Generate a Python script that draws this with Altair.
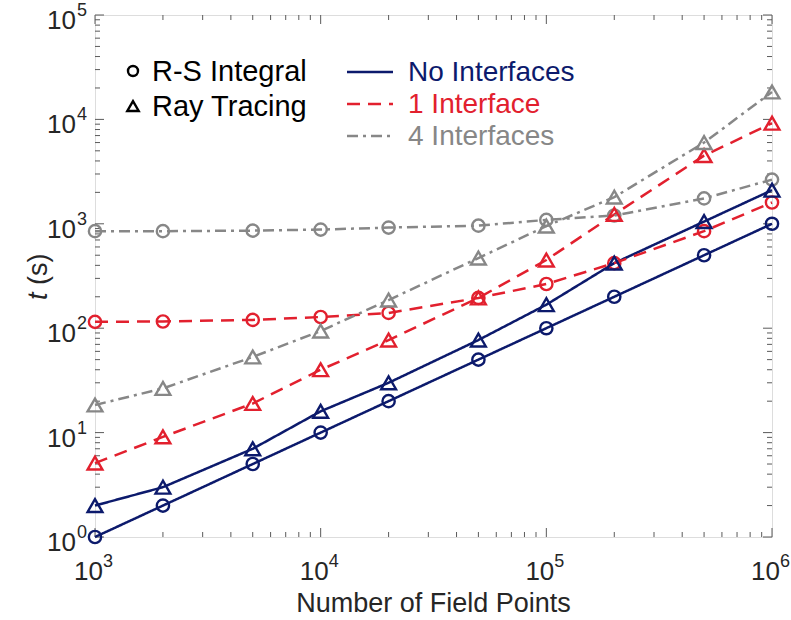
import altair as alt
import pandas as pd

# ---------------- data ----------------
x_points = [1e3, 2e3, 5e3, 1e4, 2e4, 5e4, 1e5, 2e5, 5e5, 1e6]

rs_none = [1.0, 2.0, 5.0, 10, 20, 50, 100, 200, 500, 1000]
rt_none = [2.0, 3.0, 7.0, 16, 30, 77, 168, 420, 1050, 2100]
rs_one = [115, 116, 120, 128, 140, 195, 265, 420, 850, 1600]
rt_one = [5.1, 9.1, 19, 40, 77, 195, 450, 1230, 4500, 9200]
rs_four = [850, 850, 860, 880, 920, 960, 1090, 1200, 1750, 2650]
rt_four = [18.4, 26.5, 53, 94, 186, 470, 950, 1800, 6000, 18300]

configs = ["No Interfaces", "1 Interface", "4 Interfaces"]
methods = ["R-S Integral", "Ray Tracing"]

x_major = [1e3, 1e4, 1e5, 1e6]
x_exp = ["3", "4", "5", "6"]
y_major = [1e0, 1e1, 1e2, 1e3, 1e4, 1e5]
y_exp = ["0", "1", "2", "3", "4", "5"]
x_minor = [m * 10 ** k for k in range(3, 6) for m in range(2, 10)]
y_minor = [m * 10 ** k for k in range(0, 5) for m in range(2, 10)]

series = [
    ("No Interfaces", "R-S Integral", rs_none),
    ("No Interfaces", "Ray Tracing", rt_none),
    ("1 Interface", "R-S Integral", rs_one),
    ("1 Interface", "Ray Tracing", rt_one),
    ("4 Interfaces", "R-S Integral", rs_four),
    ("4 Interfaces", "Ray Tracing", rt_four),
]
rows = []
for cfg, meth, vals in series:
    for xv, tv in zip(x_points, vals):
        rows.append({"x": xv, "t": tv, "config": cfg, "method": meth, "key": cfg + "|" + meth})
df = pd.DataFrame(rows)

# ---------------- styling ----------------
W, H = 677, 522
FONT = "Liberation Sans"
NAVY, RED, GRAY = "#0c1a6c", "#e2202e", "#878787"
AXIS_COLOR = "#5a5a5a"
TEXT_COLOR = "#262626"
RED_DASH = [13, 8]
GRAY_DASH = [11, 5, 3, 5]

xs = alt.Scale(type="log", domain=[1e3, 1e6], nice=False)
ys = alt.Scale(type="log", domain=[1, 1e5], nice=False)
color_scale = alt.Scale(domain=configs, range=[NAVY, RED, GRAY])
dash_scale = alt.Scale(domain=configs, range=[[1, 0], RED_DASH, GRAY_DASH])

X = alt.X("x:Q", scale=xs, axis=None)
Y = alt.Y("t:Q", scale=ys, axis=None)
C = alt.Color("config:N", scale=color_scale, legend=None)

base = alt.Chart(df)
lines = base.mark_line(strokeWidth=2.5).encode(
    x=X, y=Y, color=C,
    strokeDash=alt.StrokeDash("config:N", scale=dash_scale, legend=None),
    detail="key:N", order="x:Q",
)
circles = base.transform_filter(alt.datum.method == "R-S Integral").mark_point(
    shape="circle", filled=False, size=150, strokeWidth=2.4, opacity=1
).encode(x=X, y=Y, color=C)
triangles = base.transform_filter(alt.datum.method == "Ray Tracing").mark_point(
    shape="triangle-up", filled=False, size=220, strokeWidth=2.4, opacity=1
).encode(x=X, y=Y, color=C)

# ---------------- ticks (inward, all four sides) ----------------
def x_ticks(vals, length):
    c = alt.Chart(pd.DataFrame({"v": vals}))
    enc = alt.X("v:Q", scale=xs, axis=None)
    bottom = c.mark_rule(color=AXIS_COLOR, strokeWidth=1).encode(
        x=enc, y=alt.value(H), y2=alt.value(H - length))
    top = c.mark_rule(color=AXIS_COLOR, strokeWidth=1).encode(
        x=enc, y=alt.value(0), y2=alt.value(length))
    return [bottom, top]


def y_ticks(vals, length):
    c = alt.Chart(pd.DataFrame({"v": vals}))
    enc = alt.Y("v:Q", scale=ys, axis=None)
    left = c.mark_rule(color=AXIS_COLOR, strokeWidth=1).encode(
        y=enc, x=alt.value(0), x2=alt.value(length))
    right = c.mark_rule(color=AXIS_COLOR, strokeWidth=1).encode(
        y=enc, x=alt.value(W), x2=alt.value(W - length))
    return [left, right]


ticks = x_ticks(x_major, 9) + x_ticks(x_minor, 5) + y_ticks(y_major, 9) + y_ticks(y_minor, 5)

# ---------------- tick labels (10 + superscript) ----------------
xl = alt.Chart(pd.DataFrame({"v": x_major, "e": x_exp, "b": ["10"] * len(x_major)}))
x_lab_base = xl.mark_text(font=FONT, fontSize=26, align="right", baseline="alphabetic",
                          dx=8, color=TEXT_COLOR).encode(
    x=alt.X("v:Q", scale=xs, axis=None), y=alt.value(H + 43), text="b:N")
x_lab_exp = xl.mark_text(font=FONT, fontSize=18, align="left", baseline="alphabetic",
                         dx=8, color=TEXT_COLOR).encode(
    x=alt.X("v:Q", scale=xs, axis=None), y=alt.value(H + 30), text="e:N")

yl = alt.Chart(pd.DataFrame({"v": y_major, "e": y_exp, "b": ["10"] * len(y_major)}))
y_lab_base = yl.mark_text(font=FONT, fontSize=26, align="right", baseline="alphabetic",
                          dy=14, color=TEXT_COLOR).encode(
    y=alt.Y("v:Q", scale=ys, axis=None), x=alt.value(-19), text="b:N")
y_lab_exp = yl.mark_text(font=FONT, fontSize=18, align="left", baseline="alphabetic",
                         dy=1, color=TEXT_COLOR).encode(
    y=alt.Y("v:Q", scale=ys, axis=None), x=alt.value(-18), text="e:N")

# ---------------- axis titles ----------------
def txt(s, **kw):
    return alt.Chart(pd.DataFrame({"s": [s]})).mark_text(font=FONT, **kw)


x_title = txt("Number of Field Points", fontSize=27, align="center", baseline="alphabetic",
              color=TEXT_COLOR).encode(x=alt.value(W / 2), y=alt.value(H + 75), text="s:N")
y_title_t = txt("t", fontSize=27, fontStyle="italic", align="left", baseline="alphabetic",
                angle=270, color=TEXT_COLOR).encode(x=alt.value(-48), y=alt.value(285), text="s:N")
y_title_s = txt("(s)", fontSize=27, align="left", baseline="alphabetic",
                angle=270, color=TEXT_COLOR).encode(x=alt.value(-48), y=alt.value(270), text="s:N")

# ---------------- legends ----------------
leg_items = []
mk = alt.Chart(pd.DataFrame({"s": ["m"]}))
leg_items.append(mk.mark_point(shape="circle", filled=False, size=100, strokeWidth=2.4,
                               color="black", opacity=1).encode(x=alt.value(38), y=alt.value(56)))
leg_items.append(mk.mark_point(shape="triangle-up", filled=False, size=130, strokeWidth=2.4,
                               color="black", opacity=1).encode(x=alt.value(38), y=alt.value(91)))
leg_items.append(txt(methods[0], fontSize=29, align="left", baseline="middle", color="black")
                 .encode(x=alt.value(57), y=alt.value(57), text="s:N"))
leg_items.append(txt(methods[1], fontSize=29, align="left", baseline="middle", color="black")
                 .encode(x=alt.value(57), y=alt.value(92), text="s:N"))

for name, col, dash, yy in [
    (configs[0], NAVY, [1, 0], 57),
    (configs[1], RED, RED_DASH, 89),
    (configs[2], GRAY, GRAY_DASH, 121),
]:
    leg_items.append(mk.mark_rule(color=col, strokeWidth=2.5, strokeDash=dash).encode(
        x=alt.value(252), x2=alt.value(298), y=alt.value(yy)))
    leg_items.append(txt(name, fontSize=28, align="left", baseline="middle", color=col)
                     .encode(x=alt.value(313), y=alt.value(yy + 1), text="s:N"))

chart = alt.layer(
    *ticks, lines, circles, triangles,
    x_lab_base, x_lab_exp, y_lab_base, y_lab_exp,
    x_title, y_title_t, y_title_s, *leg_items,
).properties(
    width=W, height=H,
    autosize=alt.AutoSizeParams(type="none"),
    padding={"left": 95, "top": 15, "right": 19, "bottom": 83},
).configure_view(
    stroke=AXIS_COLOR, strokeWidth=1.3
).configure(background="white")

chart.save("out.html", embed_options={"renderer": "svg", "actions": False})
